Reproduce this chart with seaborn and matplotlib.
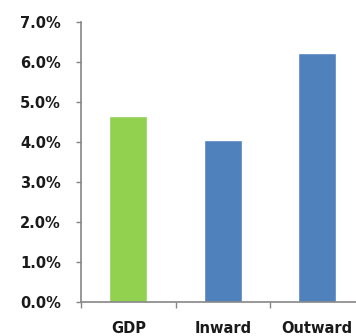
import numpy as np
import pandas as pd
import matplotlib
matplotlib.use('Agg')
import matplotlib.pyplot as plt
import seaborn as sns
from matplotlib.ticker import PercentFormatter, FixedLocator

categories = ['GDP', 'Inward', 'Outward']
growth = [0.0465, 0.0405, 0.0622]
bar_colors = ['#92D050', '#4F81BD', '#4F81BD']

df = pd.DataFrame({'category': categories, 'growth': growth})

sns.set_style('white')
plt.rcParams['font.family'] = ['DejaVu Sans']

fig = plt.figure(figsize=(3.56, 3.36), dpi=100)
ax = fig.add_axes([81 / 356, 34 / 336, 283.5 / 356, 280 / 336])

sns.barplot(data=df, x='category', y='growth', hue='category',
            palette=bar_colors, width=0.4, legend=False, ax=ax,
            saturation=1)

ax.set_ylim(0, 0.07)
ax.set_xlim(-0.5, 2.5)
ax.yaxis.set_major_locator(FixedLocator(np.arange(0, 0.0701, 0.01)))
ax.yaxis.set_major_formatter(PercentFormatter(xmax=1, decimals=1))

# category boundaries carry the tick marks, centres carry the labels
ax.set_xticks([-0.5, 0.5, 1.5, 2.5])
ax.set_xticklabels([])
ax.set_xticks([0, 1, 2], minor=True)
ax.set_xticklabels(categories, minor=True)
ax.tick_params(axis='x', which='major', direction='out', length=4, width=1,
               color='#868686', bottom=True)
ax.tick_params(axis='x', which='minor', length=0, pad=14)
ax.tick_params(axis='y', direction='out', length=3.5, width=1,
               color='#868686', left=True, pad=11)

for lab in ax.get_yticklabels() + ax.get_xticklabels(minor=True):
    lab.set_fontweight('bold')
    lab.set_fontsize(10.5)
    lab.set_color('#1a1a1a')

ax.set_xlabel('')
ax.set_ylabel('')
for side in ['top', 'right']:
    ax.spines[side].set_visible(False)
for side in ['left', 'bottom']:
    ax.spines[side].set_color('#868686')
    ax.spines[side].set_linewidth(1.2)

fig.savefig('out.png', dpi=100)
